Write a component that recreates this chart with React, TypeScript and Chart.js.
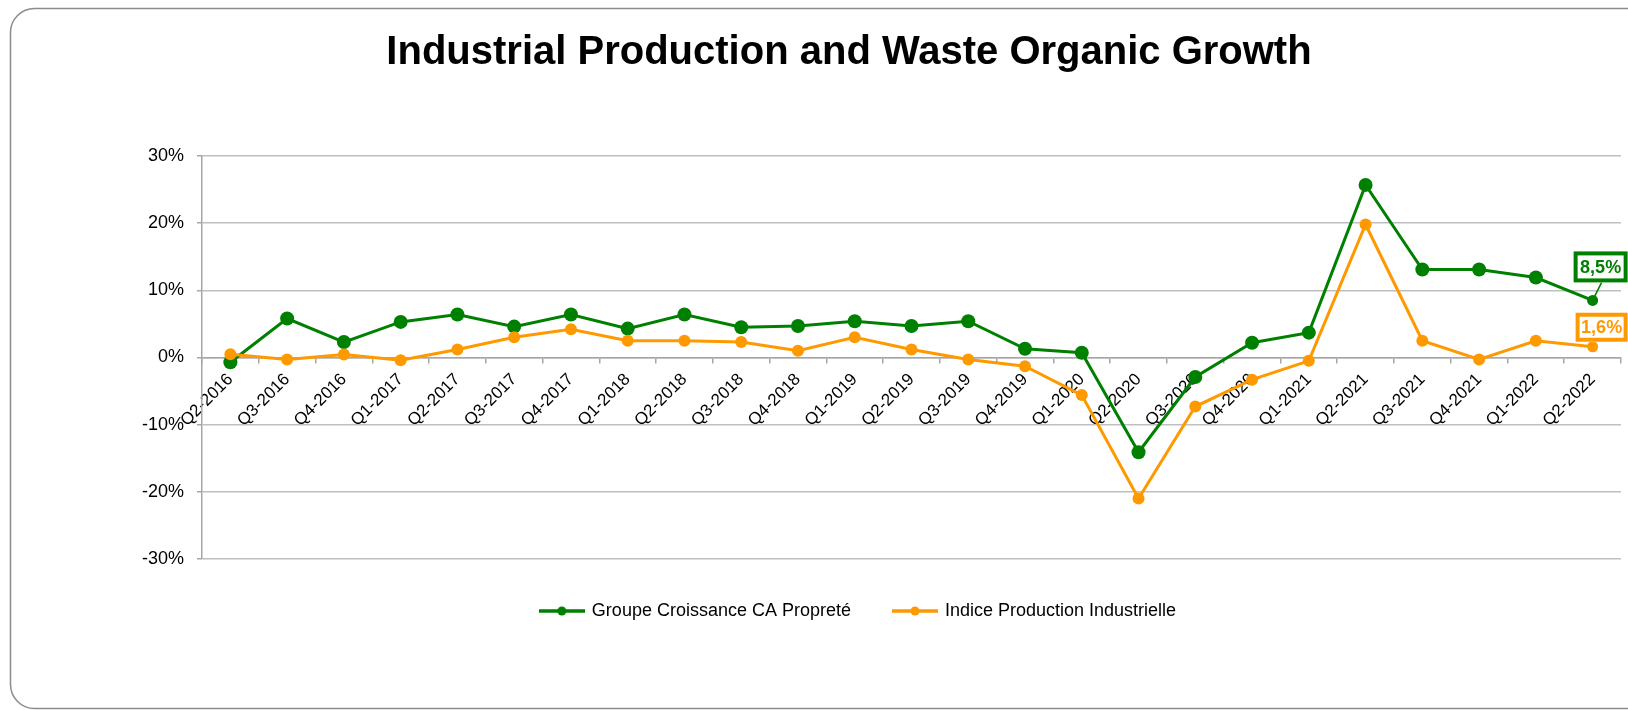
import React, { useEffect, useRef } from "react";
import { Chart, registerables } from "chart.js";

Chart.register(...registerables);

const categories = [
  "Q2-2016", "Q3-2016", "Q4-2016", "Q1-2017", "Q2-2017", "Q3-2017", "Q4-2017",
  "Q1-2018", "Q2-2018", "Q3-2018", "Q4-2018", "Q1-2019", "Q2-2019", "Q3-2019",
  "Q4-2019", "Q1-2020", "Q2-2020", "Q3-2020", "Q4-2020", "Q1-2021", "Q2-2021",
  "Q3-2021", "Q4-2021", "Q1-2022", "Q2-2022",
];

const groupeCroissance = [
  -0.7, 5.8, 2.3, 5.3, 6.4, 4.6, 6.4, 4.3, 6.4, 4.5, 4.7, 5.4, 4.7, 5.4,
  1.3, 0.7, -14.1, -2.9, 2.2, 3.7, 25.7, 13.1, 13.1, 11.9, 8.5,
];

const indiceProduction = [
  0.5, -0.3, 0.45, -0.4, 1.2, 3.0, 4.2, 2.5, 2.5, 2.3, 1.0, 3.0, 1.2, -0.3,
  -1.3, -5.6, -21.0, -7.3, -3.3, -0.5, 19.8, 2.5, -0.3, 2.5, 1.6,
];

const chartTitle = "Industrial Production and Waste Organic Growth";
const seriesNames = ["Groupe Croissance CA Propreté", "Indice Production Industrielle"];
const lastValueLabels = ["8,5%", "1,6%"];
const yMin = -30;
const yMax = 30;
const yStep = 10;

const GREEN = "#008000";
const ORANGE = "#FF9900";
const FONT = "'Liberation Sans', Arial, Helvetica, sans-serif";

function makeLegendIcon(color: string): HTMLCanvasElement {
  const c = document.createElement("canvas");
  c.width = 46;
  c.height = 12;
  const g = c.getContext("2d")!;
  g.strokeStyle = color;
  g.lineWidth = 3.5;
  g.beginPath();
  g.moveTo(0, 6);
  g.lineTo(46, 6);
  g.stroke();
  g.fillStyle = color;
  g.beginPath();
  g.arc(23, 6, 4.5, 0, Math.PI * 2);
  g.fill();
  return c;
}

// offsets of label boxes relative to the last point (styling only)
const labelBoxStyle = [
  { color: GREEN, dx0: -19, dx1: 35, dy0: -49, dy1: -18, leader: true },
  { color: ORANGE, dx0: -17, dx1: 35, dy0: -34, dy1: -5, leader: false },
];

const framePlugin = {
  id: "frame",
  beforeDraw(chart: any) {
    const ctx = chart.ctx;
    ctx.save();
    ctx.fillStyle = "#ffffff";
    ctx.fillRect(0, 0, chart.width, chart.height);
    ctx.strokeStyle = "#8c8c8c";
    ctx.lineWidth = 1.5;
    const x = 10.5, y = 8.5, w = 1660, h = 700, r = 24;
    ctx.beginPath();
    ctx.moveTo(x + r, y);
    ctx.lineTo(x + w - r, y);
    ctx.arcTo(x + w, y, x + w, y + r, r);
    ctx.lineTo(x + w, y + h - r);
    ctx.arcTo(x + w, y + h, x + w - r, y + h, r);
    ctx.lineTo(x + r, y + h);
    ctx.arcTo(x, y + h, x, y + h - r, r);
    ctx.lineTo(x, y + r);
    ctx.arcTo(x, y, x + r, y, r);
    ctx.closePath();
    ctx.stroke();
    // title
    ctx.fillStyle = "#000000";
    ctx.font = `bold 40px ${FONT}`;
    ctx.textAlign = "center";
    ctx.textBaseline = "middle";
    ctx.fillText(chartTitle, 849, 53);
    ctx.restore();
  },
};

const lastLabelPlugin = {
  id: "lastLabels",
  afterDatasetsDraw(chart: any) {
    const ctx = chart.ctx;
    ctx.save();
    chart.data.datasets.forEach((_ds: any, i: number) => {
      const meta = chart.getDatasetMeta(i);
      const pt = meta.data[meta.data.length - 1];
      if (!pt) return;
      const st = labelBoxStyle[i];
      const left = pt.x + st.dx0;
      const right = pt.x + st.dx1;
      const top = pt.y + st.dy0;
      const bottom = pt.y + st.dy1;
      if (st.leader) {
        ctx.strokeStyle = st.color;
        ctx.lineWidth = 1.5;
        ctx.beginPath();
        ctx.moveTo(pt.x, pt.y);
        ctx.lineTo(pt.x + 9, bottom);
        ctx.stroke();
      }
      ctx.fillStyle = "#ffffff";
      ctx.fillRect(left, top, right - left, bottom - top);
      ctx.strokeStyle = st.color;
      ctx.lineWidth = 4;
      ctx.strokeRect(left + 2, top + 2, right - left - 4, bottom - top - 4);
      ctx.fillStyle = st.color;
      ctx.font = `bold 18px ${FONT}`;
      ctx.textAlign = "center";
      ctx.textBaseline = "middle";
      ctx.fillText(lastValueLabels[i], (left + right) / 2, (top + bottom) / 2 + 1);
    });
    ctx.restore();
  },
};

export default function App() {
  const canvasRef = useRef<HTMLCanvasElement | null>(null);

  useEffect(() => {
    if (!canvasRef.current) return;
    const last = categories.length - 1;
    const icons = [makeLegendIcon(GREEN), makeLegendIcon(ORANGE)];
    const chart = new Chart(canvasRef.current, {
      type: "line",
      data: {
        labels: categories,
        datasets: [
          {
            label: seriesNames[0],
            data: groupeCroissance,
            borderColor: GREEN,
            backgroundColor: GREEN,
            borderWidth: 3,
            pointRadius: (c: any) => (c.dataIndex === last ? 5.5 : 7),
            pointBorderWidth: 0,
            pointBackgroundColor: GREEN,
            tension: 0,
            order: 1,
          },
          {
            label: seriesNames[1],
            data: indiceProduction,
            borderColor: ORANGE,
            backgroundColor: ORANGE,
            borderWidth: 3,
            pointRadius: (c: any) => (c.dataIndex === last ? 5.5 : 6),
            pointBorderWidth: 0,
            pointBackgroundColor: ORANGE,
            tension: 0,
            order: 0,
          },
        ],
      },
      options: {
        responsive: false,
        animation: false,
        devicePixelRatio: 1,
        layout: { padding: { left: 95, right: 6, top: 156, bottom: 80 } },
        plugins: {
          title: { display: false },
          legend: {
            display: true,
            position: "bottom",
            labels: {
              color: "#000000",
              font: { family: FONT, size: 18 },
              usePointStyle: true,
              pointStyleWidth: 42,
              padding: 43,
              generateLabels: (ch: any) => {
                const items = (Chart.defaults.plugins.legend.labels as any).generateLabels(ch);
                return items
                  .sort((a: any, b: any) => a.datasetIndex - b.datasetIndex)
                  .map((it: any) => ({ ...it, pointStyle: icons[it.datasetIndex] }));
              },
            },
          },
          tooltip: { enabled: false },
        },
        scales: {
          x: {
            type: "category",
            position: { y: 0 } as any,
            offset: true,
            grid: {
              display: true,
              drawOnChartArea: false,
              drawTicks: true,
              tickLength: 5,
              color: "#a6a6a6",
              lineWidth: 1.5,
              offset: true,
            },
            border: { display: true, color: "#a6a6a6", width: 1.5 },
            ticks: {
              autoSkip: false,
              minRotation: 45,
              maxRotation: 45,
              color: "#000000",
              font: { family: FONT, size: 17 },
              padding: 7,
            },
          },
          y: {
            min: yMin,
            max: yMax,
            ticks: {
              stepSize: yStep,
              color: "#000000",
              font: { family: FONT, size: 18 },
              padding: 13,
              callback: (v: any) => `${v}%`,
            },
            grid: {
              color: "#bfbfbf",
              lineWidth: 1.5,
              drawTicks: true,
              tickLength: 5,
              tickColor: "#a6a6a6",
            },
            border: { display: true, color: "#a6a6a6", width: 1.5 },
            afterFit: (s: any) => {
              s.width = 107;
            },
          },
        },
      },
      plugins: [framePlugin, lastLabelPlugin],
    } as any);
    return () => chart.destroy();
  }, []);

  return (
    <div style={{ position: "fixed", left: 0, top: 0, width: 1628, height: 710, background: "#fff" }}>
      <canvas ref={canvasRef} width={1628} height={710} style={{ display: "block" }} />
    </div>
  );
}
